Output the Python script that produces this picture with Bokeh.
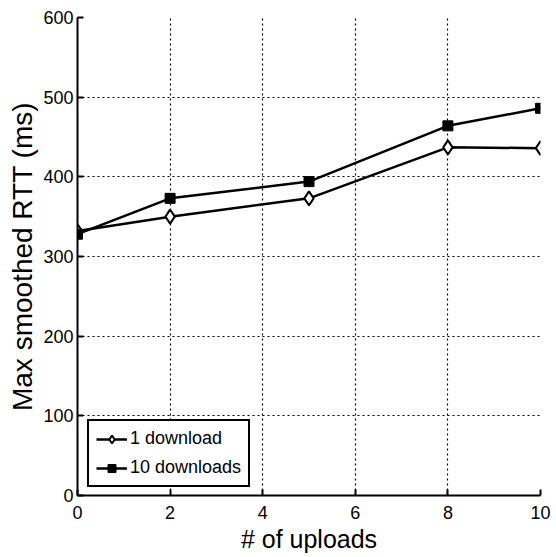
from bokeh.plotting import figure
from bokeh.models import Legend, LegendItem, FixedTicker, Range1d
from bokeh.embed import file_html
from bokeh.resources import INLINE

uploads = [0, 2, 5, 8, 10]
one_download = [332, 350, 373, 437, 436]
ten_downloads = [328, 373, 394, 464, 486]
x_ticks = [0, 2, 4, 6, 8, 10]
y_ticks = [0, 100, 200, 300, 400, 500, 600]

p = figure(width=556, height=557, output_backend="svg", toolbar_location=None,
           x_range=Range1d(0, 10), y_range=Range1d(0, 600),
           min_border_left=77, min_border_right=16, min_border_top=17, min_border_bottom=62)
p.outline_line_color = None
p.background_fill_color = "white"

for ax, ticks in ((p.xaxis, x_ticks), (p.yaxis, y_ticks)):
    ax.ticker = FixedTicker(ticks=ticks)
    ax.axis_line_color = "black"
    ax.axis_line_width = 2
    ax.major_tick_in = 6
    ax.major_tick_out = 0
    ax.minor_tick_line_color = None
    ax.major_tick_line_width = 2
    ax.major_label_text_font = "Liberation Sans"
    ax.major_label_text_font_size = "18px"
    ax.major_label_text_color = "black"
    ax.axis_label_text_font = "Liberation Sans"
    ax.axis_label_text_font_style = "normal"
    ax.axis_label_text_color = "black"

p.xaxis.axis_label = "# of uploads"
p.yaxis.axis_label = "Max smoothed RTT (ms)"
p.xaxis.axis_label_text_font_size = "25px"
p.yaxis.axis_label_text_font_size = "28px"
p.xaxis.major_label_standoff = 10
p.yaxis.major_label_standoff = 4
p.xaxis.axis_label_standoff = 3
p.yaxis.axis_label_standoff = 2

for g in (p.xgrid, p.ygrid):
    g.grid_line_color = "black"
    g.grid_line_dash = "2 3"
    g.grid_line_width = 1.2
p.xgrid.ticker = FixedTicker(ticks=x_ticks)
p.ygrid.ticker = FixedTicker(ticks=y_ticks)

l1 = p.line(uploads, one_download, line_color="black", line_width=2.5)
m1 = p.scatter(uploads, one_download, marker="diamond", size=14, fill_color="white",
               line_color="black", line_width=2)
l2 = p.line(uploads, ten_downloads, line_color="black", line_width=2.5)
m2 = p.scatter(uploads, ten_downloads, marker="square", size=10, fill_color="black",
               line_color="black", line_width=1)

legend = Legend(items=[LegendItem(label="1 download", renderers=[l1, m1]),
                       LegendItem(label="10 downloads", renderers=[l2, m2])],
                location=(10, 8))
legend.label_text_font = "Liberation Sans"
legend.label_text_font_size = "18px"
legend.label_text_color = "black"
legend.border_line_color = "black"
legend.border_line_alpha = 1.0
legend.border_line_width = 2
legend.padding = 7
legend.spacing = 8
legend.margin = 0
legend.glyph_width = 31
legend.glyph_height = 20
legend.label_standoff = 3
p.add_layout(legend, "center")

open("out.html", "w").write(file_html(p, INLINE))
